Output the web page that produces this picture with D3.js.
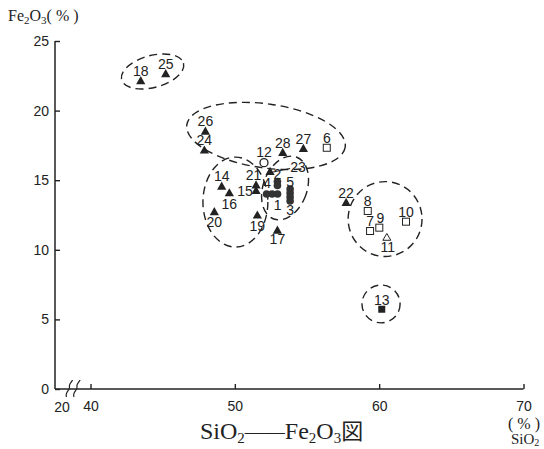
<!DOCTYPE html>
<html><head><meta charset="utf-8">
<script src="https://cdn.jsdelivr.net/npm/d3@7/dist/d3.min.js"></script>
<style>
html,body{margin:0;padding:0;background:#fff;}
svg{display:block;}
.num{font-family:"Liberation Sans",Arial,sans-serif;font-size:14px;fill:#222;}
.ser{font-family:"Liberation Serif","Times New Roman",serif;fill:#222;}
</style></head>
<body>
<svg id="c" width="544" height="449"></svg>
<script>
// ---- data ----
const xTicks = [40, 50, 60, 70];
const yTicks = [0, 5, 10, 15, 20, 25];
const filledTriangles = [
  {label:"18", x:43.48, y:22.15}, {label:"25", x:45.21, y:22.65},
  {label:"26", x:47.96, y:18.53}, {label:"24", x:47.89, y:17.17},
  {label:"28", x:53.32, y:17.00}, {label:"27", x:54.75, y:17.29},
  {label:"23", x:52.44, y:15.63}, {label:"21", x:51.47, y:14.66},
  {label:"15", x:51.47, y:14.26}, {label:"14", x:49.09, y:14.58},
  {label:"16", x:49.62, y:14.10}, {label:"20", x:48.58, y:12.74},
  {label:"19", x:51.56, y:12.50}, {label:"17", x:52.95, y:11.42},
  {label:"22", x:57.71, y:13.41}
];
const openSquares = [
  {label:"6", x:56.37, y:17.33}, {label:"8", x:59.21, y:12.79},
  {label:"7", x:59.37, y:11.35}, {label:"9", x:60.01, y:11.59},
  {label:"10", x:61.86, y:12.02}
];
const openTriangles = [ {label:"11", x:60.53, y:10.90} ];
const filledSquares = [ {label:"13", x:60.18, y:5.73} ];
const openCircles = [ {label:"12", x:52.02, y:16.26} ];
const filledCircles = [
  {label:"2", x:52.95, y:14.91}, {label:"", x:52.95, y:14.62},
  {label:"4", x:52.20, y:14.01}, {label:"", x:52.58, y:14.01},
  {label:"1", x:52.96, y:14.01},
  {label:"5", x:53.83, y:14.37}, {label:"", x:53.83, y:14.08},
  {label:"", x:53.83, y:13.79}, {label:"3", x:53.83, y:13.51}
];
// group outlines (data units), rotation in degrees
const groups = [
  {cx:44.30, cy:22.81, rx:2.22, ry:1.15, rot:-15},
  {cx:52.16, cy:18.18, rx:5.54, ry:2.30, rot:8},
  {cx:50.04, cy:13.43, rx:2.25, ry:3.23, rot:0},
  {cx:53.48, cy:14.44, rx:1.52, ry:2.37, rot:20},
  {cx:60.41, cy:12.21, rx:2.56, ry:2.69, rot:0},
  {cx:60.13, cy:6.11,  rx:1.32, ry:1.36, rot:0}
];
// label placement (pixel offsets from marker)
const labelOffsets = {"16":[0,11],"20":[0,10],"19":[0,11],"17":[0,9.5],"11":[1,9.5],
  "1":[0,11],"3":[0,9.5],"15":[-11,0.5],"23":[28,-4],"2":[0,-7.5],"5":[0,-7],
  "12":[0,-11],"4":[0.5,-10.5],"9":[1,-9.5],"21":[-2.5,-10]};

// ---- drawing ----
const svg = d3.select("#c");
const x = d3.scaleLinear().domain([40,70]).range([90.5,523.5]);
const y = d3.scaleLinear().domain([0,25]).range([389,41]);
const ink = "#222";
const X0 = 55;

// y axis
const yAx = svg.append("g").attr("transform",`translate(${X0},0)`)
  .call(d3.axisLeft(y).tickValues(yTicks).tickSizeInner(-5).tickSizeOuter(0).tickPadding(6));
yAx.select(".domain").remove();
yAx.selectAll("line").attr("stroke",ink).attr("stroke-width",1.4);
yAx.selectAll("text").attr("class","num").attr("font-size",null).attr("font-family",null);
svg.append("line").attr("x1",X0).attr("x2",X0).attr("y1",y(25)).attr("y2",y(0))
  .attr("stroke",ink).attr("stroke-width",1.5);

// x axis
const xAx = svg.append("g").attr("transform",`translate(0,${y(0)})`)
  .call(d3.axisBottom(x).tickValues(xTicks).tickSizeInner(-5).tickSizeOuter(0).tickPadding(12));
xAx.select(".domain").remove();
xAx.selectAll("line").attr("stroke",ink).attr("stroke-width",1.4);
xAx.selectAll("text").attr("class","num").attr("font-size",null).attr("font-family",null);
svg.append("line").attr("x1",X0).attr("x2",x(70)).attr("y1",y(0)).attr("y2",y(0))
  .attr("stroke",ink).attr("stroke-width",1.5);
// axis break
[69.5, 77].forEach(bx => {
  svg.append("path").attr("d",`M${bx-3},${y(0)+8} C${bx-5},${y(0)+3} ${bx+1},${y(0)+1} ${bx},${y(0)-2} C${bx-1},${y(0)-5} ${bx+3},${y(0)-8} ${bx+3},${y(0)-9}`)
    .attr("fill","none").attr("stroke",ink).attr("stroke-width",1.2);
});
svg.append("text").attr("class","num").attr("x",X0+7).attr("y",y(0)+23).attr("text-anchor","middle").text("20");

// group outlines
svg.append("g").selectAll("ellipse").data(groups).join("ellipse")
  .attr("cx",0).attr("cy",0)
  .attr("rx",d => x(d.cx+d.rx)-x(d.cx)).attr("ry",d => y(d.cy-d.ry)-y(d.cy))
  .attr("transform",d => `translate(${x(d.cx)},${y(d.cy)}) rotate(${d.rot})`)
  .attr("fill","none").attr("stroke",ink).attr("stroke-width",1.4).attr("stroke-dasharray","8,5");

// markers
const tri = "M0,-4.6L4.6,3.6L-4.6,3.6Z";
const g = svg.append("g");
g.selectAll(".ft").data(filledTriangles).join("path").attr("class","ft")
  .attr("d",tri).attr("transform",d=>`translate(${x(d.x)},${y(d.y)})`).attr("fill",ink);
g.selectAll(".ot").data(openTriangles).join("path").attr("class","ot")
  .attr("d","M0,-3.8L4,3L-4,3Z").attr("transform",d=>`translate(${x(d.x)},${y(d.y)})`)
  .attr("fill","#fff").attr("stroke",ink).attr("stroke-width",1);
g.selectAll(".os").data(openSquares).join("rect").attr("class","os")
  .attr("x",d=>x(d.x)-3.5).attr("y",d=>y(d.y)-3.5).attr("width",7).attr("height",7)
  .attr("fill","#fff").attr("stroke",ink).attr("stroke-width",1);
g.selectAll(".fs").data(filledSquares).join("rect").attr("class","fs")
  .attr("x",d=>x(d.x)-3.5).attr("y",d=>y(d.y)-3.5).attr("width",7).attr("height",7).attr("fill",ink);
g.selectAll(".fc").data(filledCircles).join("circle").attr("class","fc")
  .attr("cx",d=>x(d.x)).attr("cy",d=>y(d.y)).attr("r",3.8).attr("fill","#333");
g.selectAll(".oc").data(openCircles).join("circle").attr("class","oc")
  .attr("cx",d=>x(d.x)).attr("cy",d=>y(d.y)).attr("r",4).attr("fill","#fff")
  .attr("stroke",ink).attr("stroke-width",1.3);

// leader line for 23
const p23 = filledTriangles.find(d=>d.label==="23");
svg.append("line").attr("x1",x(p23.x)+3).attr("y1",y(p23.y)+0.5)
  .attr("x2",x(p23.x)+20).attr("y2",y(p23.y)-3).attr("stroke",ink).attr("stroke-width",1.1);

// labels
const all = [].concat(filledTriangles, openTriangles, openSquares, filledSquares, filledCircles, openCircles)
  .filter(d => d.label !== "");
svg.append("g").selectAll("text").data(all).join("text").attr("class","num")
  .attr("text-anchor","middle").attr("dy","0.35em")
  .attr("x",d => x(d.x) + (labelOffsets[d.label]||[0,-9.5])[0])
  .attr("y",d => y(d.y) + (labelOffsets[d.label]||[0,-9.5])[1])
  .text(d => d.label);

// titles
const t1 = svg.append("text").attr("class","ser").attr("x",8).attr("y",21).attr("font-size",16);
t1.append("tspan").text("Fe");
t1.append("tspan").attr("font-size",11).attr("dy",3).text("2");
t1.append("tspan").attr("dy",-3).text("O");
t1.append("tspan").attr("font-size",11).attr("dy",3).text("3");
t1.append("tspan").attr("dy",-3).text("( % )");

const t2 = svg.append("text").attr("class","ser").attr("x",200).attr("y",439).attr("font-size",24);
t2.append("tspan").text("SiO");
t2.append("tspan").attr("font-size",15).attr("dy",4).text("2");
t2.append("tspan").attr("dy",-4).attr("font-size",20).text("——");
t2.append("tspan").text("Fe");
t2.append("tspan").attr("font-size",15).attr("dy",4).text("2");
t2.append("tspan").attr("dy",-4).text("O");
t2.append("tspan").attr("font-size",15).attr("dy",4).text("3");
t2.append("tspan").attr("dy",-4).attr("font-family","'Noto Sans CJK JP'").attr("font-size",22).text("図");

svg.append("text").attr("class","ser").attr("x",524).attr("y",429).attr("font-size",16)
  .attr("text-anchor","middle").text("( % )");
const t3 = svg.append("text").attr("class","ser").attr("x",511).attr("y",444).attr("font-size",15);
t3.append("tspan").text("SiO");
t3.append("tspan").attr("font-size",10).attr("dy",2).text("2");
</script>
</body></html>
